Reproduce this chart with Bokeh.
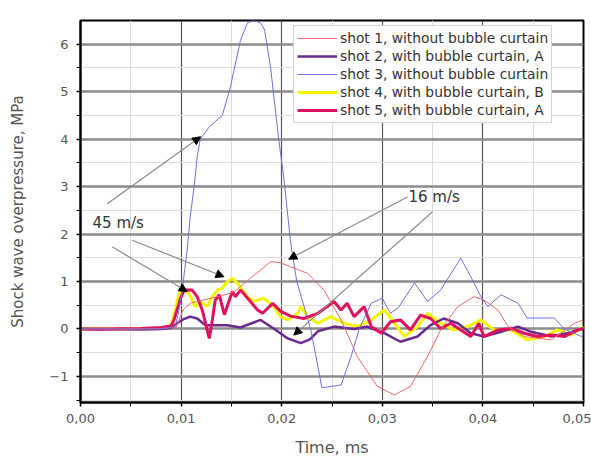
from bokeh.plotting import figure
from bokeh.models import (Range1d, FixedTicker, CustomJSTickFormatter, Legend, LegendItem,
                          Arrow, NormalHead)
from bokeh.core.properties import value
from bokeh.embed import file_html
from bokeh.resources import INLINE

# ---- data (time in ms, overpressure in MPa) ----
t1 = [0, 0.004, 0.008, 0.0095, 0.0102, 0.011, 0.012, 0.013, 0.014, 0.015, 0.0155, 0.0165, 0.0179,
      0.0189, 0.0198, 0.0209, 0.0226, 0.0242, 0.0259, 0.0275, 0.0295, 0.0312, 0.0328, 0.0345, 0.0358,
      0.0375, 0.0391, 0.0401, 0.0415, 0.0425, 0.0441, 0.0468, 0.0491, 0.05]
y1 = [0, 0, 0.01, 0.03, 0.4, 0.55, 0.6, 0.65, 0.7, 0.76, 0.82, 1.0, 1.24,
      1.42, 1.40, 1.31, 1.17, 0.82, 0.19, -0.58, -1.21, -1.39, -1.21, -0.58, -0.02,
      0.47, 0.68, 0.61, 0.4, 0.05, -0.16, -0.23, 0.12, 0.19]

t2 = [0, 0.002, 0.004, 0.006, 0.008, 0.009, 0.0096, 0.0102, 0.0109, 0.0116, 0.0124, 0.0133, 0.0146,
      0.0159, 0.0179, 0.0192, 0.0206, 0.0219, 0.0228, 0.0236, 0.0252, 0.0272, 0.0285, 0.0302, 0.0318,
      0.0335, 0.0348, 0.0361, 0.0375, 0.0388, 0.0401, 0.0418, 0.0435, 0.0448, 0.0468, 0.0484, 0.05]
y2 = [0, -0.01, 0, -0.01, 0, 0.02, 0.12, 0.2, 0.26, 0.22, 0.08, 0.08, 0.08,
      0.03, 0.19, 0.01, -0.2, -0.3, -0.22, -0.05, 0.05, 0.0, 0.05, -0.09, -0.27,
      -0.16, 0.08, 0.22, 0.12, -0.09, -0.16, -0.06, 0.05, -0.06, -0.16, -0.09, 0.01]

t3 = [0, 0.004, 0.008, 0.0094, 0.0097, 0.0101, 0.0106, 0.0109, 0.0113, 0.0116, 0.0119, 0.0128, 0.0141,
      0.0149, 0.0159, 0.0166, 0.0172, 0.0179, 0.0183, 0.0189, 0.0197, 0.0202, 0.0209, 0.0215, 0.0229,
      0.0240, 0.0259, 0.0269, 0.0277, 0.0289, 0.0300, 0.0308, 0.0316, 0.0332, 0.0345, 0.0358, 0.0378,
      0.0388, 0.0398, 0.0405, 0.0418, 0.0435, 0.0444, 0.0471, 0.0481, 0.0498, 0.05]
y3 = [0, 0, 0, 0.05, 0.3, 0.8, 1.66, 2.36, 3.0, 3.63, 4.0, 4.26, 4.5,
      5.1, 6.08, 6.45, 6.5, 6.45, 6.3, 5.5, 4.0, 3.2, 1.8, 1.0, -0.02,
      -1.24, -1.18, -0.58, 0.0, 0.54, 0.65, 0.33, 0.45, 0.97, 0.58, 0.82, 1.49,
      1.1, 0.68, 0.47, 0.72, 0.54, 0.23, 0.23, 0.0, -0.16, -0.1]

t4 = [0, 0.004, 0.008, 0.0088, 0.0091, 0.0095, 0.0098, 0.0106, 0.0114, 0.0119, 0.0126, 0.0131, 0.0136,
      0.0141, 0.0146, 0.0151, 0.0156, 0.0166, 0.0172, 0.0182, 0.0192, 0.0199, 0.0206, 0.0216, 0.0219,
      0.0226, 0.0236, 0.0249, 0.0262, 0.0275, 0.0289, 0.0302, 0.0312, 0.0322, 0.0335, 0.0345, 0.0358,
      0.0371, 0.0385, 0.0398, 0.0411, 0.0428, 0.0444, 0.0461, 0.0474, 0.0488, 0.05]
y4 = [0, 0, 0.01, 0.03, 0.15, 0.47, 0.75, 0.82, 0.47, 0.58, 0.47, 0.68, 0.82,
      0.86, 1.0, 1.07, 0.96, 0.68, 0.58, 0.65, 0.47, 0.26, 0.19, 0.33, 0.47,
      0.26, 0.12, 0.26, 0.12, 0.05, 0.19, 0.40, 0.12, -0.16, 0.05, 0.33, 0.12,
      -0.02, 0.05, 0.19, -0.02, -0.02, -0.23, -0.16, -0.02, -0.13, 0.05]

t5 = [0, 0.003, 0.006, 0.008, 0.009, 0.0093, 0.00995, 0.0103, 0.0111, 0.0116, 0.0121, 0.0128, 0.0131,
      0.0134, 0.0138, 0.0143, 0.0148, 0.0151, 0.0154, 0.0159, 0.0166, 0.0176, 0.0181, 0.0191, 0.0199,
      0.0209, 0.0222, 0.0236, 0.0252, 0.0259, 0.0265, 0.0272, 0.0282, 0.0289, 0.0299, 0.0308, 0.0318,
      0.0328, 0.0338, 0.0348, 0.0358, 0.0368, 0.0378, 0.0388, 0.0396, 0.0401, 0.0415, 0.0428, 0.0441,
      0.0454, 0.0468, 0.0481, 0.0494, 0.05]
y5 = [0, 0, 0.01, 0.03, 0.06, 0.19, 0.65, 0.82, 0.82, 0.68, 0.40, -0.2, 0.19,
      0.61, 0.72, 0.30, 0.61, 0.79, 0.68, 0.82, 0.65, 0.40, 0.33, 0.54, 0.37,
      0.27, 0.22, 0.33, 0.58, 0.40, 0.54, 0.26, 0.47, 0.05, -0.09, 0.15, 0.19,
      -0.02, 0.29, 0.22, 0.01, 0.12, -0.02, -0.16, 0.12, -0.16, -0.02, 0.01, -0.09,
      -0.16, -0.13, -0.16, -0.02, 0.01]

series_labels = ["shot 1, without bubble curtain", "shot 2, with bubble curtain, A",
                 "shot 3, without bubble curtain", "shot 4, with bubble curtain, B",
                 "shot 5, with bubble curtain, A"]

x_ticks = [0.0, 0.01, 0.02, 0.03, 0.04, 0.05]
y_ticks = [-1, 0, 1, 2, 3, 4, 5, 6]

# annotations
note_texts = ["45 m/s", "16 m/s"]
note_x = [0.0012, 0.0326]
note_y = [2.23, 2.78]
arrow_x0 = [0.00266, 0.00315, 0.00514, 0.0325, 0.0350]
arrow_y0 = [2.64, 1.73, 1.87, 2.78, 2.47]
arrow_x1 = [0.01194, 0.0106, 0.01426, 0.0207, 0.0212]
arrow_y1 = [4.05, 0.79, 1.10, 1.47, -0.13]

FONT = "DejaVu Sans"

p = figure(width=591, height=460, output_backend="svg", toolbar_location=None,
           x_range=Range1d(0, 0.05), y_range=Range1d(-1.55, 6.5),
           min_border_left=80, min_border_right=8, min_border_top=20, min_border_bottom=58)
p.background_fill_color = "white"
p.border_fill_color = "white"
p.outline_line_color = "black"
p.outline_line_width = 2

# axes
p.xaxis.ticker = FixedTicker(ticks=x_ticks, minor_ticks=[0.005, 0.015, 0.025, 0.035, 0.045])
p.yaxis.ticker = FixedTicker(ticks=y_ticks, minor_ticks=[-1.5, -0.5, 0.5, 1.5, 2.5, 3.5, 4.5, 5.5])
p.xaxis.formatter = CustomJSTickFormatter(code="return tick.toFixed(2).replace('.', ',');")
for ax in (p.xaxis[0], p.yaxis[0]):
    ax.axis_line_color = "black"
    ax.axis_line_width = 2
    ax.major_tick_line_color = "black"
    ax.major_tick_line_width = 1.5
    ax.minor_tick_line_color = "black"
    ax.major_tick_out = 4
    ax.major_tick_in = 0
    ax.minor_tick_out = 4
    ax.minor_tick_in = 0
    ax.major_label_text_font = FONT
    ax.major_label_text_font_size = "13px"
    ax.major_label_text_color = "#555555"
    ax.axis_label_text_font = FONT
    ax.axis_label_text_font_size = "15px"
    ax.axis_label_text_font_style = "normal"
    ax.axis_label_text_color = "#555555"
p.xaxis.axis_label = "Time, ms"
p.yaxis.axis_label = "Shock wave overpressure, MPa"
p.xaxis.axis_label_text_font_size = "16px"
p.xaxis.major_label_standoff = 7
p.xaxis.axis_label_standoff = 12
p.yaxis.major_label_standoff = 8
p.yaxis.axis_label_standoff = 19

# grids
p.ygrid.grid_line_color = "#8c8c8c"
p.ygrid.grid_line_width = 2.5
p.xgrid.grid_line_color = "#555555"
p.xgrid.grid_line_width = 1.2
for g in (p.xgrid[0], p.ygrid[0]):
    g.minor_grid_line_color = "#dddddd"
    g.minor_grid_line_width = 1

# series (drawing order: yellow, purple, crimson, salmon, blue)
r4 = p.line(t4, y4, line_color="#f5f500", line_width=3)
r2 = p.line(t2, y2, line_color="#6a2a8c", line_width=2.5)
r5 = p.line(t5, y5, line_color="#e0105e", line_width=3)
r1 = p.line(t1, y1, line_color="#e86a6a", line_width=1)
r3 = p.line(t3, y3, line_color="#6f6fe0", line_width=1)

# arrows
for xs, ys, xe, ye in zip(arrow_x0, arrow_y0, arrow_x1, arrow_y1):
    p.add_layout(Arrow(x_start=xs, y_start=ys, x_end=xe, y_end=ye,
                       line_color="#8a8a8a", line_width=1.2,
                       end=NormalHead(size=8, fill_color="black", line_color="black", line_width=1)))

p.text(x=note_x, y=note_y, text=note_texts, text_font=value(FONT), text_font_size="15px",
       text_color="#333333", text_baseline="middle", text_align="left")

legend = Legend(items=[LegendItem(label=series_labels[0], renderers=[r1]),
                       LegendItem(label=series_labels[1], renderers=[r2]),
                       LegendItem(label=series_labels[2], renderers=[r3]),
                       LegendItem(label=series_labels[3], renderers=[r4]),
                       LegendItem(label=series_labels[4], renderers=[r5])],
                location=(213, 279))
legend.label_text_font = FONT
legend.label_text_font_size = "13.8px"
legend.label_text_color = "#333333"
legend.glyph_width = 40
legend.glyph_height = 18
legend.label_height = 18
legend.label_standoff = 3
legend.spacing = 0
legend.padding = 3
legend.margin = 0
legend.border_line_color = "#aaaaaa"
legend.border_line_width = 1
legend.background_fill_color = "white"
legend.background_fill_alpha = 1
p.add_layout(legend)

open("out.html", "w").write(file_html(p, INLINE))
